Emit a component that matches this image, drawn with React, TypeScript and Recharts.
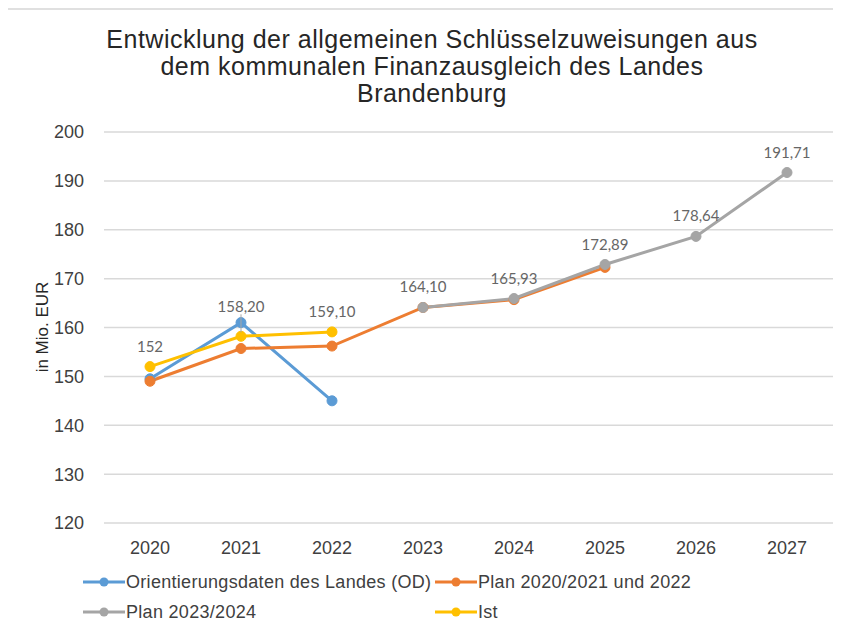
import { LineChart, Line, XAxis, YAxis, CartesianGrid, LabelList } from "recharts";

const years = ["2020", "2021", "2022", "2023", "2024", "2025", "2026", "2027"];
const odValues = [149.5, 161, 145, null, null, null, null, null];
const plan2022Values = [149, 155.7, 156.2, 164.1, 165.7, 172.3, null, null];
const plan2024Values = [null, null, null, 164.1, 165.93, 172.89, 178.64, 191.71];
const istValues = [152, 158.2, 159.1, null, null, null, null, null];
const istLabels = ["152", "158,20", "159,10", "", "", "", "", ""];
const plan2024Labels = ["", "", "", "164,10", "165,93", "172,89", "178,64", "191,71"];
const yTicks = [120, 130, 140, 150, 160, 170, 180, 190, 200];

const series = [
  { key: "od", name: "Orientierungsdaten des Landes (OD)", color: "#5B9BD5" },
  { key: "plan2022", name: "Plan 2020/2021 und 2022", color: "#ED7D31" },
  { key: "plan2024", name: "Plan 2023/2024", color: "#A5A5A5" },
  { key: "ist", name: "Ist", color: "#FFC000" },
];

const data = years.map((year, i) => ({
  year,
  od: odValues[i],
  plan2022: plan2022Values[i],
  plan2024: plan2024Values[i],
  ist: istValues[i],
  istLabel: istLabels[i],
  plan2024Label: plan2024Labels[i],
}));

const tickStyle = { fontFamily: "'Liberation Sans', Arial, sans-serif", fontSize: 18, fill: "#404040" };

// label with optional extra lift + leader line (the 2021 label sits above the OD point)
function PointLabel(props: any) {
  const { x, y, value, index } = props;
  if (!value) return null;
  const lift = props.lifted && index === 1 ? 9 : 0;
  const ty = y - 15 - lift;
  return (
    <g>
      {lift > 0 && <line x1={x} y1={ty + 2} x2={x} y2={y - 4} stroke="#a6a6a6" strokeWidth={1} />}
      <text x={x} y={ty} textAnchor="middle" fontFamily="Lato, sans-serif" fontSize={15} fill="#666666">
        {value}
      </text>
    </g>
  );
}

function LegendItem({ name, color }: { name: string; color: string }) {
  return (
    <div style={{ display: "flex", alignItems: "center" }}>
      <svg width={42} height={12}>
        <line x1={0} y1={6} x2={42} y2={6} stroke={color} strokeWidth={3} />
        <circle cx={21} cy={6} r={4.5} fill={color} />
      </svg>
      <span style={{ marginLeft: 1 }}>{name}</span>
    </div>
  );
}

export default function App() {
  return (
    <div style={{ position: "relative", width: 841, height: 629, margin: -8, background: "#fff", overflow: "hidden" }}>
      {/* frame */}
      <div style={{ position: "absolute", left: 6, top: 8, width: 900, height: 700, borderTop: "2px solid #e0e0e0", borderLeft: "2px solid #e0e0e0" }} />

      <div
        style={{
          position: "absolute",
          left: 0,
          top: 26,
          width: 864,
          textAlign: "center",
          fontFamily: "'Liberation Sans', Arial, sans-serif",
          fontSize: 25,
          letterSpacing: 0.5,
          lineHeight: "27px",
          color: "#262626",
        }}
      >
        Entwicklung der allgemeinen Schlüsselzuweisungen aus
        <br />
        dem kommunalen Finanzausgleich des Landes
        <br />
        Brandenburg
      </div>

      <div
        style={{
          position: "absolute",
          left: 43,
          top: 327,
          transform: "translate(-50%, -50%) rotate(-90deg)",
          whiteSpace: "nowrap",
          fontFamily: "'Liberation Sans', Arial, sans-serif",
          fontSize: 17,
          color: "#262626",
        }}
      >
        in Mio. EUR
      </div>

      <div style={{ position: "absolute", left: 0, top: 0 }}>
        <LineChart width={841} height={629} data={data} margin={{ top: 132, right: 8, bottom: 76, left: 44 }}>
          <CartesianGrid vertical={false} stroke="#d9d9d9" strokeWidth={1.5} />
          <XAxis
            dataKey="year"
            axisLine={false}
            tickLine={false}
            tick={tickStyle}
            tickMargin={12}
            height={30}
            padding={{ left: 46, right: 46 }}
          />
          <YAxis
            domain={[120, 200]}
            ticks={yTicks}
            axisLine={false}
            tickLine={false}
            tick={tickStyle}
            tickMargin={14}
            width={60}
          />
          {series.map((s) => (
            <Line
              key={s.key}
              dataKey={s.key}
              name={s.name}
              stroke={s.color}
              strokeWidth={3}
              dot={{ r: 5, fill: s.color, stroke: s.color, strokeWidth: 1 }}
              activeDot={false}
              isAnimationActive={false}
            >
              {s.key === "ist" && (
                <LabelList dataKey="istLabel" content={(p: any) => <PointLabel {...p} lifted />} />
              )}
              {s.key === "plan2024" && (
                <LabelList dataKey="plan2024Label" content={(p: any) => <PointLabel {...p} />} />
              )}
            </Line>
          ))}
        </LineChart>
      </div>

      <div
        style={{
          position: "absolute",
          left: 83,
          top: 570,
          display: "grid",
          gridTemplateColumns: "352px auto",
          rowGap: 6,
          fontFamily: "'Liberation Sans', Arial, sans-serif",
          fontSize: 18,
          letterSpacing: 0.3,
          lineHeight: "24px",
          color: "#404040",
        }}
      >
        {series.map((s) => (
          <LegendItem key={s.key} name={s.name} color={s.color} />
        ))}
      </div>
    </div>
  );
}
